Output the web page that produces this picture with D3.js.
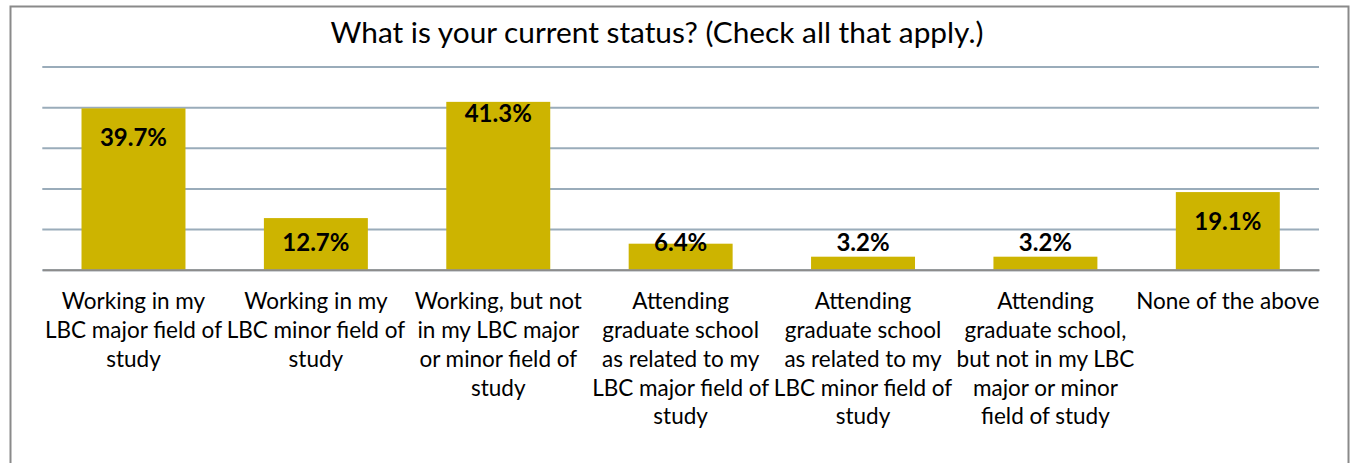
<!DOCTYPE html>
<html>
<head>
<meta charset="utf-8">
<script src="https://cdn.jsdelivr.net/npm/d3@7"></script>
<style>
  body { margin: 0; background: #fff; }
  text { font-family: Lato, "Open Sans", sans-serif; fill: #000; }
</style>
</head>
<body>
<div id="chart"></div>
<script>
// chart data
var title = "What is your current status? (Check all that apply.)";
var categories = [
  "Working in my\nLBC major field of\nstudy",
  "Working in my\nLBC minor field of\nstudy",
  "Working, but not\nin my LBC major\nor minor field of\nstudy",
  "Attending\ngraduate school\nas related to my\nLBC major field of\nstudy",
  "Attending\ngraduate school\nas related to my\nLBC minor field of\nstudy",
  "Attending\ngraduate school,\nbut not in my LBC\nmajor or minor\nfield of study",
  "None of the above"
];
var values = [39.7, 12.7, 41.3, 6.4, 3.2, 3.2, 19.1];
var yTicks = [0, 10, 20, 30, 40, 50];

var svgWidth = 1353;
var svgHeight = 463;

var margin = { top: 66.5, right: 34, bottom: 193.3, left: 42.3 };
var width = svgWidth - margin.left - margin.right;
var height = svgHeight - margin.top - margin.bottom;

var svg = d3.select("#chart")
  .append("svg")
  .attr("width", svgWidth)
  .attr("height", svgHeight);

// outer frame
svg.append("rect")
  .attr("x", 10.5).attr("y", 6.5)
  .attr("width", 1338).attr("height", 480)
  .attr("fill", "none")
  .attr("stroke", "#8a8a8a")
  .attr("stroke-width", 2);

svg.append("text")
  .attr("x", 657)
  .attr("y", 43)
  .attr("text-anchor", "middle")
  .attr("font-size", 29.8)
  .text(title);

var chartGroup = svg.append("g")
  .attr("transform", `translate(${margin.left}, ${margin.top})`);

var xScale = d3.scaleBand()
  .domain(categories)
  .range([0, width])
  .paddingInner(0.43)
  .paddingOuter(0.215);

var yScale = d3.scaleLinear()
  .domain([0, 50])
  .range([height, 0]);

// gridlines
var grid = chartGroup.append("g")
  .call(d3.axisLeft(yScale).tickValues(yTicks).tickSize(-width).tickFormat(""));
grid.select(".domain").remove();
grid.selectAll(".tick line")
  .attr("stroke", "#9aacba")
  .attr("stroke-width", 2);

// bars
chartGroup.selectAll(".bar")
  .data(values)
  .enter()
  .append("rect")
  .classed("bar", true)
  .attr("x", (d, i) => xScale(categories[i]))
  .attr("y", d => yScale(d))
  .attr("width", xScale.bandwidth())
  .attr("height", d => height - yScale(d))
  .attr("fill", "#cdb400");

// baseline
var xAxis = chartGroup.append("g")
  .attr("transform", `translate(0, ${height})`)
  .call(d3.axisBottom(xScale).tickSize(0).tickFormat(""));
xAxis.select(".domain")
  .attr("stroke", "#8c8c8c")
  .attr("stroke-width", 2);

// category labels
var maxVal = d3.max(values);
xAxis.selectAll(".tick").each(function(cat) {
  var t = d3.select(this).append("text")
    .attr("text-anchor", "middle")
    .attr("font-size", 22.5)
    .attr("y", 39.5);
  cat.split("\n").forEach(function(line, j) {
    t.append("tspan")
      .attr("x", 0)
      .attr("dy", j === 0 ? 0 : 28.8)
      .text(line);
  });
});

// value labels
chartGroup.selectAll(".value-label")
  .data(values)
  .enter()
  .append("text")
  .classed("value-label", true)
  .attr("x", (d, i) => xScale(categories[i]) + xScale.bandwidth() / 2)
  .attr("y", d => d === maxVal ? yScale(d) + 20 : Math.min(yScale(d) + 38, height - 18.5))
  .attr("text-anchor", "middle")
  .attr("font-size", 24)
  .attr("font-weight", "bold")
  .text(d => d.toFixed(1) + "%");
</script>
</body>
</html>
